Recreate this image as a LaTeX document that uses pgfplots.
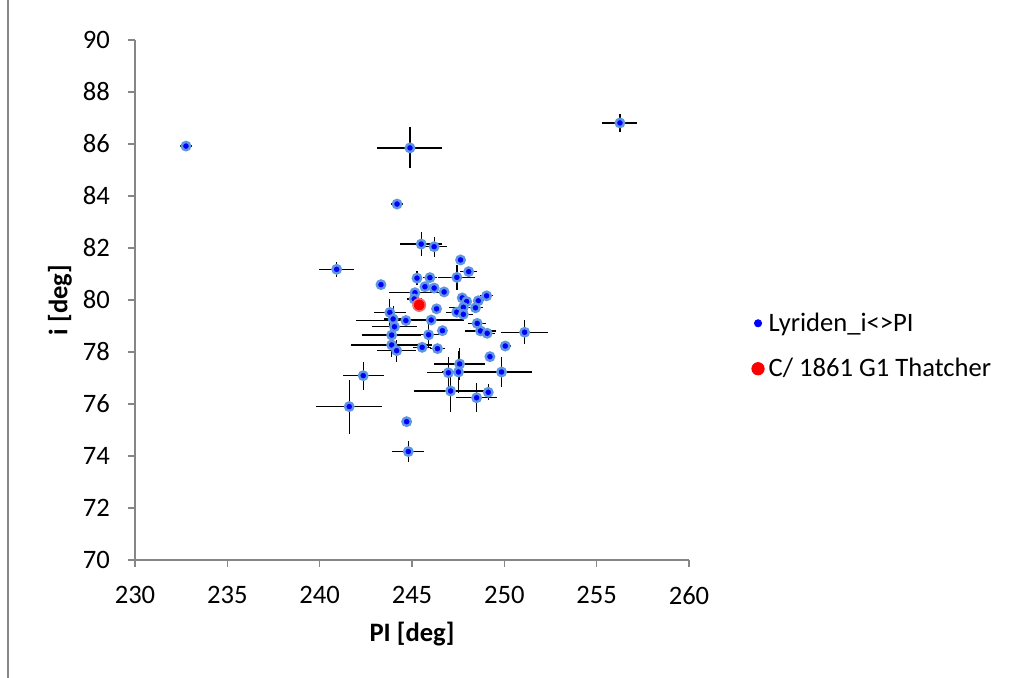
\documentclass[border=0pt]{standalone}
\usepackage{pgfplots}
\usepackage{pgfplotstable}
\pgfplotsset{compat=1.18}
\usepackage{fontspec}
\setmainfont{Carlito}
\definecolor{axgray}{RGB}{134,134,134}
\definecolor{ptblue}{RGB}{0,0,255}
\definecolor{ptring}{RGB}{95,150,225}
\definecolor{ptred}{RGB}{255,0,0}
\definecolor{redring}{RGB}{240,110,110}

% PI, i, error PI, error i
\pgfplotstableread{
x y ex ey
232.76 85.92 0.30 0.20
244.89 85.85 1.76 0.79
256.26 86.81 0.95 0.33
244.19 83.69 0.30 0.05
240.92 81.18 0.95 0.30
245.50 82.15 1.15 0.47
246.20 82.05 0.70 0.38
247.63 81.54 0 0
248.07 81.09 0.45 0
247.43 80.87 1.00 0.48
245.27 80.84 0.25 0.28
245.97 80.86 0.40 0.10
243.32 80.59 0 0
245.70 80.51 0 0
246.20 80.46 0 0
246.74 80.31 0 0
245.16 80.28 1.40 0.10
245.12 80.04 0.40 0.15
247.72 80.08 0 0
249.04 80.16 0.37 0
248.59 79.97 0.30 0
247.96 79.94 0 0
247.78 79.72 0.80 0
248.44 79.70 0.40 0
246.33 79.66 0 0
243.80 79.52 0.85 0.53
243.98 79.27 0.50 0.50
244.67 79.21 2.70 0.10
246.04 79.23 1.80 0.10
247.42 79.53 0.60 0.10
247.78 79.45 0.50 0.10
248.53 79.10 0.50 0.10
244.05 78.97 1.20 0.30
243.90 78.65 1.60 0.30
245.90 78.66 0.60 0.50
246.65 78.82 0 0
248.71 78.81 0.85 0.10
249.07 78.72 0.40 0.20
251.10 78.76 1.26 0.47
243.90 78.27 2.20 0.47
244.17 78.05 1.05 0.43
245.55 78.18 0.50 0.10
246.38 78.13 0.40 0
250.05 78.23 0.30 0.10
249.22 77.82 0 0
247.58 77.54 1.40 0.62
246.97 77.20 1.17 0.60
247.52 77.23 0.90 0.80
249.85 77.23 1.65 0.56
242.36 77.09 1.11 0.54
247.09 76.50 2.00 0.80
248.50 76.24 1.13 0.56
249.13 76.45 0.20 0.30
241.60 75.90 1.80 1.04
244.71 75.32 0 0
244.80 74.17 0.86 0.40
}\lyr

\pgfplotstableread{
x y
245.39 79.81
}\thatcher

\begin{document}
\begin{tikzpicture}
\path[use as bounding box] (-67.5pt,-59pt) rectangle (439pt,280pt);
\draw[axgray, line width=0.8pt] (-63.5pt,-59pt) -- (-63.5pt,280pt);
\begin{axis}[
  scale only axis, width=277pt, height=260pt,
  xmin=230, xmax=260, ymin=70, ymax=90,
  xtick={230,235,...,260}, ytick={70,72,...,90},
  axis lines*=left,
  axis line style={axgray, line width=0.8pt},
  tick style={axgray, line width=0.8pt},
  tick align=outside, major tick length=3.5pt,
  minor tick num=0,
  /pgf/number format/assume math mode=true,
  tick label style={font=\fontsize{13.3}{16}\selectfont, black},
  xticklabel style={yshift=-6pt},
  yticklabel style={xshift=-5.6pt},
  label style={font=\fontsize{13.3}{16}\selectfont\bfseries},
  xlabel={PI [deg]}, ylabel={i [deg]},
  xlabel style={at={(axis description cs:0.5,-0.1423)}, anchor=center},
  ylabel style={at={(axis description cs:-0.1354,0.5)}, anchor=center},
  legend style={at={(axis description cs:1.112,0.4115)}, anchor=west,
    draw=none, fill=none, inner sep=0pt, row sep=8pt,
    font=\fontsize{13.3}{16}\selectfont},
  legend cell align=left,
]
\addplot[only marks, mark=none, forget plot,
  error bars/.cd, x dir=both, x explicit, y dir=both, y explicit,
  error mark=none, error bar style={black, line width=0.65pt}]
  table[x=x, y=y, x error=ex, y error=ey] {\lyr};
\addplot[only marks, mark=*, mark size=2.1pt,
  mark options={fill=ptblue, draw=ptring, line width=1.2pt},
  legend image code/.code={\fill[ptblue] (2.5pt,0pt) circle (1.8pt);}]
  table[x=x, y=y] {\lyr};
\addlegendentry{Lyriden\_i<>PI}
\addplot[only marks, mark=*, mark size=3.1pt,
  mark options={fill=ptred, draw=redring, line width=0.8pt},
  legend image code/.code={\fill[ptred] (2.5pt,0pt) circle (3.1pt);}]
  table[x=x, y=y] {\thatcher};
\addlegendentry{C/ 1861 G1 Thatcher}
\end{axis}
\end{tikzpicture}
\end{document}
